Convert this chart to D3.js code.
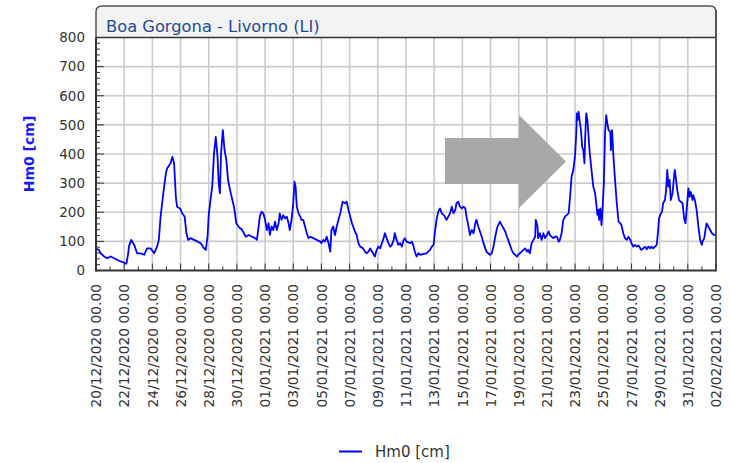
<!DOCTYPE html>
<html><head><meta charset="utf-8">
<script src="https://cdn.jsdelivr.net/npm/d3@7"></script>
<style>html,body{margin:0;padding:0;background:#fff;}svg{display:block;}</style>
</head><body>
<svg id="chart" width="731" height="463"></svg>
<script>
const title = "Boa Gorgona - Livorno (LI)";
const seriesName = "Hm0 [cm]";
const startDate = new Date(2020, 11, 20, 0, 0);
const endDate = new Date(2021, 1, 2, 0, 0);
const yTicks = [0, 100, 200, 300, 400, 500, 600, 700, 800];
// hours since 20/12/2020 00.00
const hours = [0,5,8,14,19,25,31,36,42,48,51,52,55,56,60,65,70,76,82,87,93,99,104,107,110,113,116,119,121,127,130,133,136,138,143,147,151,154,157,161,167,173,178,184,187,190,192,195,198,201,204,207,209,211,213,216,219,222,225,229,235,239,243,249,255,260,266,
271,274,277,279,282,285,288,291,294,296,299,302,305,308,311,313,316,319,322,325,328,330,333,336,338,340,342,345,348,350,353,356,359,362,365,370,376,382,384,387,390,393,396,399,401,404,407,410,413,416,420,424,427,430,433,436,438,441,444,447,450,455,458,461,464,467,470,472,475,478,481,484,487,489,492,495,498,501,504,507,509,512,515,518,521,524,526,529,
535,538,541,543,546,549,552,558,563,566,569,572,575,577,580,583,586,589,592,594,597,600,603,606,609,612,614,617,620,623,626,629,631,634,637,640,643,646,648,651,654,657,660,663,665,668,671,674,677,680,683,685,688,691,694,697,700,702,705,708,711,714,717,719,722,725,728,731,734,736,739,742,745,748,749,752,753,756,759,762,765,768,771,773,776,779,782,785,788,790,793,796,
799,802,805,807,810,813,816,818,819,820,822,824,826,828,830,832,833,835,837,839,841,844,847,850,852,854,856,857,859,861,863,865,867,869,871,873,876,877,879,881,884,887,890,893,895,898,901,904,907,910,912,915,918,921,924,927,929,932,935,938,941,944,946,949,952,955,957,959,961,964,966,969,971,973,975,977,979,982,985,986,988,990,993,996,999,1002,1004,1006,1009,1011,1013,1016,1017,1020,1023,1026,1029,1032,1033,1036,1038,1040,1043,1046,1049,1052,1054,1056];
const hm0 = [75,71,59,48,42,48,42,37,31,27,23,25,60,82,105,88,59,59,54,76,76,59,82,105,185,236,288,333,350,368,390,368,253,219,213,196,185,128,105,111,105,99,94,76,71,116,190,242,288,402,459,390,299,265,402,482,413,379,310,270,219,162,150,139,116,122,116,
111,105,151,185,202,196,174,139,162,122,151,139,168,139,162,196,174,190,179,185,162,139,174,231,305,288,219,196,185,174,174,151,128,111,116,111,105,99,94,105,99,116,94,65,139,151,122,151,174,196,236,231,236,208,185,162,151,134,122,94,82,76,65,59,65,76,65,59,48,71,82,76,94,105,128,111,94,82,88,105,128,105,88,94,82,105,111,99,
94,99,82,65,48,59,54,57,59,65,71,82,88,128,174,202,213,196,191,185,174,185,196,219,196,208,231,236,219,213,219,213,185,156,122,139,128,162,174,151,134,116,94,76,65,59,54,59,82,116,145,156,168,156,145,134,116,105,88,71,59,54,48,54,59,65,71,76,65,71,59,94,105,116,174,151,111,128,105,128,111,122,134,122,116,111,116,116,99,105,128,174,
185,191,196,242,322,345,396,470,539,516,545,510,482,425,413,368,448,539,516,459,402,345,288,265,231,191,208,174,213,156,219,299,470,533,505,482,477,413,482,402,311,231,168,162,156,128,111,105,116,105,94,82,88,82,86,76,71,76,82,73,82,76,82,76,82,88,128,179,191,202,231,242,276,345,288,311,242,265,333,345,311,276,242,236,231,174,162,208,282,253,270,242,259,242,208,151,105,88,99,111,139,162,151,139,128,122,122,118];

const svg = d3.select("#chart");
const FONT = "'DejaVu Sans', Verdana, sans-serif";
const L = 96, R = 716, T = 37.5, B = 270.5;

const x = d3.scaleTime().domain([startDate, endDate]).range([L, R]);
const y = d3.scaleLinear().domain([0, 800]).range([B, T]);

const data = hours.map((h, i) => ({ t: new Date(startDate.getTime() + h * 3600e3), v: hm0[i] }));
const majorX = d3.timeDay.range(startDate, d3.timeDay.offset(endDate, 1), 2);
const minorX = d3.timeDay.range(startDate, d3.timeDay.offset(endDate, 1), 1);
const minorY = d3.range(0, 801, 20);

// title bar / frame
svg.append("path")
  .attr("d", `M${L},${B} L${L},12 Q${L},6 ${L+6},6 L${R-6},6 Q${R},6 ${R},12 L${R},${B}`)
  .attr("fill", "#f3f3f3").attr("stroke", "#555").attr("stroke-width", 1.5);
svg.append("rect").attr("x", L).attr("y", T).attr("width", R - L).attr("height", B - T).attr("fill", "#fff");
svg.append("text").attr("x", 106).attr("y", 31.5)
  .attr("font-family", FONT).attr("font-size", 16.3).attr("fill", "#1f4a96").text(title);

// grid
const g = svg.append("g");
g.selectAll(".gx").data(majorX.filter(d => x(d) > L + 1 && x(d) < R - 1)).join("line")
  .attr("x1", d => x(d)).attr("x2", d => x(d)).attr("y1", T).attr("y2", B)
  .attr("stroke", "#cccccc").attr("stroke-width", 1.6);
g.selectAll(".gy").data(yTicks.filter(v => v > 0 && v < 800)).join("line")
  .attr("x1", L).attr("x2", R).attr("y1", d => y(d)).attr("y2", d => y(d))
  .attr("stroke", "#cccccc").attr("stroke-width", 1.6);

// arrow
const ax0 = 445, ax1 = 519, ay0 = 138, ay1 = 184, hy0 = 115, hy1 = 208, tipx = 566;
svg.append("path")
  .attr("d", `M${ax0},${ay0} L${ax1},${ay0} L${ax1},${hy0} L${tipx},${(hy0+hy1)/2} L${ax1},${hy1} L${ax1},${ay1} L${ax0},${ay1} Z`)
  .attr("fill", "#a8a8a8");

// series line
svg.append("path").datum(data)
  .attr("d", d3.line().x(d => x(d.t)).y(d => y(d.v)))
  .attr("fill", "none").attr("stroke", "#0000ff").attr("stroke-width", 1.8)
  .attr("stroke-linejoin", "round");

// axes lines
svg.append("line").attr("x1", L).attr("x2", L).attr("y1", T).attr("y2", B + 1).attr("stroke", "#333").attr("stroke-width", 2);
svg.append("line").attr("x1", L).attr("x2", R).attr("y1", B).attr("y2", B).attr("stroke", "#333").attr("stroke-width", 2);
svg.append("line").attr("x1", L).attr("x2", R).attr("y1", T).attr("y2", T).attr("stroke", "#333").attr("stroke-width", 1.5);
svg.append("line").attr("x1", R).attr("x2", R).attr("y1", 10).attr("y2", B + 1).attr("stroke", "#555").attr("stroke-width", 2);

// ticks
svg.append("g").selectAll("line").data(minorY).join("line")
  .attr("x1", L).attr("x2", d => L + (d % 100 === 0 ? 8 : 4))
  .attr("y1", d => y(d)).attr("y2", d => y(d)).attr("stroke", "#333").attr("stroke-width", 1);
svg.append("g").selectAll("line").data(minorX).join("line")
  .attr("x1", d => x(d)).attr("x2", d => x(d))
  .attr("y1", B).attr("y2", (d, i) => B - (i % 2 === 0 ? 7 : 4)).attr("stroke", "#333").attr("stroke-width", 1);

// y labels
svg.append("g").selectAll("text").data(yTicks).join("text")
  .attr("x", 85).attr("y", d => y(d)).attr("dy", "0.36em").attr("text-anchor", "end")
  .attr("font-family", FONT).attr("font-size", 13.5).attr("fill", "#333").text(d => d);

// x labels
const fmt = d3.timeFormat("%d/%m/%Y %H.%M");
svg.append("g").selectAll("text").data(majorX).join("text")
  .attr("transform", d => `translate(${x(d) + 1},284) rotate(-90)`)
  .attr("dy", "0.3em").attr("text-anchor", "end")
  .attr("font-family", FONT).attr("font-size", 13.8).attr("fill", "#333").text(d => fmt(d));

// y axis title
svg.append("text").attr("transform", `translate(29,154) rotate(-90)`)
  .attr("dy", "0.35em").attr("text-anchor", "middle")
  .attr("font-family", FONT).attr("font-size", 14).attr("font-weight", "bold").attr("fill", "#1a1aff").text(seriesName);

// legend
svg.append("line").attr("x1", 339).attr("x2", 362).attr("y1", 451.5).attr("y2", 451.5).attr("stroke", "#0000ff").attr("stroke-width", 2);
svg.append("text").attr("x", 375).attr("y", 456.5)
  .attr("font-family", FONT).attr("font-size", 15).attr("fill", "#333").text(seriesName);
</script>
</body></html>
